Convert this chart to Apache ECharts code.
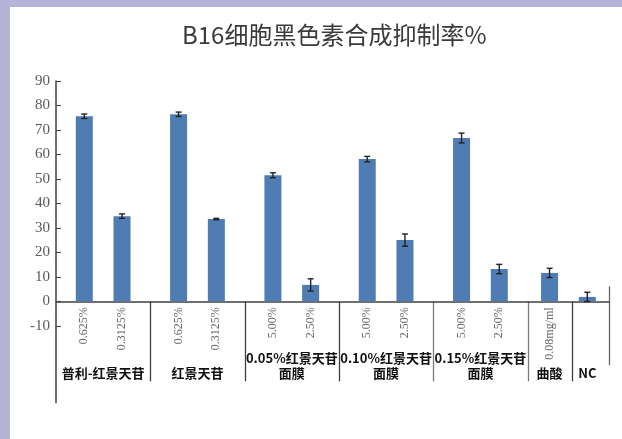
<!DOCTYPE html>
<html><head><meta charset="utf-8">
<script src="https://cdn.jsdelivr.net/npm/echarts@6/dist/echarts.min.js"></script>
<style>html,body{margin:0;padding:0;background:#fff}#c{width:622px;height:439px}</style>
</head><body><div id="c"></div>
<script>
// ---- data ----
const groupNames = ['普利-红景天苷', '红景天苷', '0.05%红景天苷\n面膜', '0.10%红景天苷\n面膜', '0.15%红景天苷\n面膜', '曲酸', 'NC'];
const barLabels = [['0.625%', '0.3125%'], ['0.625%', '0.3125%'], ['5.00%', '2.50%'], ['5.00%', '2.50%'], ['5.00%', '2.50%'], ['0.08mg/ml'], ['']];
const values = [[75.6, 34.8], [76.4, 33.6], [51.5, 6.7], [58.1, 25.0], [66.7, 13.2], [11.6], [1.8]];
const errors = [[0.9, 0.9], [0.9, 0.3], [1.0, 2.5], [1.1, 2.5], [2.0, 1.9], [1.9], [1.9]];
const yMin = -10, yMax = 90, yStep = 10;
const titleText = 'B16细胞黑色素合成抑制率%';

// ---- layout: empty slots before / between / after the bars of each group ----
const slotPads = [[4, 5, 4], [4, 5, 4], [4, 5, 4], [4, 5, 4], [4, 5, 4], [3, 3], [2, 3]];

const slotLabels = [], slotValues = [], groupAxis = [], errData = [], groupBounds = [];
groupNames.forEach((g, gi) => {
  const start = slotLabels.length;
  const pads = slotPads[gi];
  values[gi].forEach((v, bi) => {
    for (let k = 0; k < pads[bi]; k++) { slotLabels.push(''); slotValues.push('-'); }
    errData.push([slotLabels.length, v, errors[gi][bi]]);
    slotLabels.push(barLabels[gi][bi]);
    slotValues.push(v);
  });
  for (let k = 0; k < pads[pads.length - 1]; k++) { slotLabels.push(''); slotValues.push('-'); }
  const end = slotLabels.length;
  groupBounds.push(end);
  const center = start + Math.floor((end - start - 1) / 2);
  for (let k = start; k < end; k++) groupAxis.push(k === center ? g : '');
});

const chart = echarts.init(document.getElementById('c'), null, {renderer: 'canvas'});
chart.setOption({
  animation: false,
  backgroundColor: '#fff',
  title: {
    text: titleText, left: 177, top: 18,
    textStyle: {fontFamily: 'Noto Sans CJK SC', fontWeight: 'normal', fontSize: 24, color: '#3a3a3a'}
  },
  grid: {left: 56, right: 12.7, top: 81, bottom: 113.2, containLabel: false},
  xAxis: [{
    type: 'category', data: slotLabels, position: 'bottom',
    axisLine: {onZero: false, lineStyle: {color: '#404040', width: 1.5}},
    axisTick: {show: false},
    axisLabel: {interval: 0, rotate: 90, margin: 6, fontFamily: 'Liberation Serif', fontSize: 12, color: '#666'}
  }, {
    type: 'category', data: groupAxis, position: 'bottom',
    axisLine: {show: false, onZero: false}, axisTick: {show: false},
    axisLabel: {interval: 0, margin: 55, verticalAlign: 'bottom', lineHeight: 15,
      fontFamily: 'Noto Sans CJK SC', fontWeight: 'bold', fontSize: 13, color: '#111'}
  }],
  yAxis: {
    type: 'value', min: yMin, max: yMax, interval: yStep,
    axisLine: {show: true, lineStyle: {color: '#404040', width: 1.5}},
    axisTick: {show: true, inside: true, length: 5, lineStyle: {color: '#404040'}},
    splitLine: {show: false},
    axisLabel: {margin: 6, fontFamily: 'Liberation Serif', fontSize: 15, color: '#595959'}
  },
  series: [{
    type: 'bar', data: slotValues, barWidth: 17, xAxisIndex: 0,
    itemStyle: {color: '#4e7cb3'}
  }, {
    type: 'custom', data: errData, xAxisIndex: 0, z: 5,
    encode: {x: 0, y: [1, 2]},
    renderItem: function (params, api) {
      const i = api.value(0), v = api.value(1), e = api.value(2);
      const hi = api.coord([i, v + e]), lo = api.coord([i, v - e]);
      const c = 3, st = {stroke: '#222', lineWidth: 1.4};
      return {type: 'group', children: [
        {type: 'line', shape: {x1: hi[0], y1: hi[1], x2: lo[0], y2: lo[1]}, style: st},
        {type: 'line', shape: {x1: hi[0] - c, y1: hi[1], x2: hi[0] + c, y2: hi[1]}, style: st},
        {type: 'line', shape: {x1: lo[0] - c, y1: lo[1], x2: lo[0] + c, y2: lo[1]}, style: st}
      ]};
    }
  }]
});

// place the category axis on the value-axis zero, separators and frame from the axis scales
const px = i => chart.convertToPixel({xAxisIndex: 0}, i);
const band = px(1) - px(0);
const y0 = chart.convertToPixel({yAxisIndex: 0}, 0);
const yLow = chart.convertToPixel({yAxisIndex: 0}, yMin);
const bx = i => px(Math.min(i, slotLabels.length - 1)) + (i >= slotLabels.length ? band / 2 : -band / 2);
const g = [];
groupBounds.slice(0, -1).forEach((b, k) => {
  const x = Math.round(bx(b)) + 0.5;
  g.push({type: 'line', shape: {x1: x, y1: y0, x2: x, y2: y0 + 80}, style: {stroke: k < 3 || k === 5 ? '#404040' : '#7a7a7a', lineWidth: 1.3}});
});
const xr = Math.round(bx(slotLabels.length)) + 0.5;
g.push({type: 'line', shape: {x1: xr, y1: y0 - 15, x2: xr, y2: y0 + 64}, style: {stroke: '#666', lineWidth: 1.3}});
const xl = px(0) - band / 2;
g.push({type: 'line', shape: {x1: xl, y1: yLow, x2: xl, y2: y0 + 102}, style: {stroke: '#404040', lineWidth: 1.5}});
g.push({type: 'rect', shape: {x: 0, y: 0, width: 622, height: 7}, style: {fill: '#b6b3d8'}, z: 10});
g.push({type: 'rect', shape: {x: 0, y: 0, width: 10, height: 439}, style: {fill: '#b6b3d8'}, z: 10});
chart.setOption({xAxis: [{offset: y0 - yLow}, {}], graphic: g});
</script></body></html>
